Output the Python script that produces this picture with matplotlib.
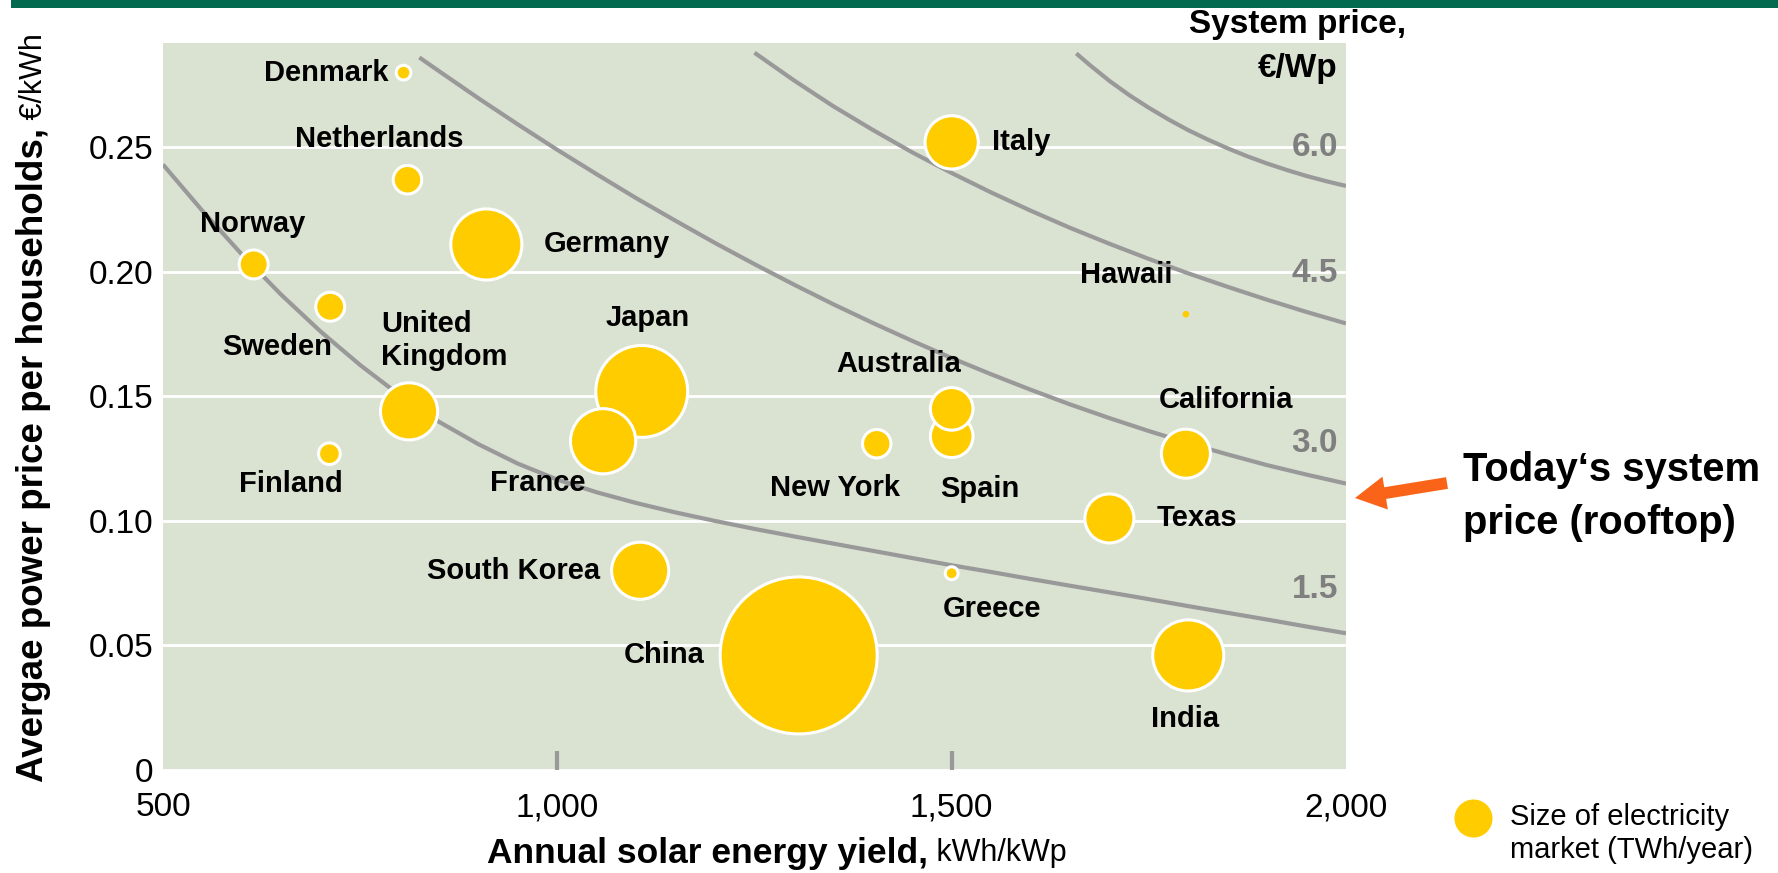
import matplotlib
matplotlib.use("Agg")
import matplotlib.pyplot as plt
from matplotlib.patches import Rectangle

# ── Palette ────────────────────────────────────────────────────────────────
BAR_GREEN = "#03694F"
PLOT_BG   = "#DAE2D2"
BUBBLE    = "#FFCC00"
CURVE     = "#999999"
CURVE_TXT = "#7F7F7F"
ARROW     = "#FA6418"

plt.rcParams["font.family"] = ["Liberation Sans", "DejaVu Sans"]

# ── Data ───────────────────────────────────────────────────────────────────
# draw order matters a little: Spain under Australia, Japan under France
countries = ["Denmark", "Netherlands", "Norway", "Sweden", "Finland",
             "United\nKingdom", "Germany", "Japan", "France", "South Korea",
             "China", "New York", "Spain", "Australia", "Italy", "Greece",
             "Hawaii", "California", "Texas", "India"]
solar_yield = [805, 810, 615, 712, 711, 812, 910, 1107, 1058, 1105,
               1306, 1405, 1500, 1500, 1500, 1500, 1797, 1797, 1700, 1800]   # kWh/kWp
power_price = [0.280, 0.237, 0.203, 0.186, 0.127, 0.144, 0.211, 0.152, 0.132, 0.080,
               0.046, 0.131, 0.134, 0.145, 0.252, 0.079, 0.183, 0.127, 0.101, 0.046]  # €/kWh
market_twh = [35, 132, 136, 136, 76, 530, 820, 1370, 690, 530,
              4000, 131, 295, 295, 460, 27, 7, 390, 390, 820]   # TWh/year

# iso-lines of system price (€/Wp), sampled every 50 kWh/kWp
iso_15_x = list(range(500, 2001, 50))
iso_15_y = [0.2431, 0.2245, 0.2070, 0.1908, 0.1760, 0.1626, 0.1505, 0.1398,
            0.1308, 0.1230, 0.1166, 0.1115, 0.1072, 0.1034, 0.1000, 0.0968,
            0.0938, 0.0909, 0.0880, 0.0851, 0.0822, 0.0795, 0.0767, 0.0740,
            0.0713, 0.0686, 0.0658, 0.0631, 0.0604, 0.0576, 0.0549]
iso_30_x = [825] + list(range(850, 2001, 50))
iso_30_y = [0.2861, 0.2806, 0.2697, 0.2592, 0.2490, 0.2392, 0.2296, 0.2205,
            0.2116, 0.2031, 0.1949, 0.1870, 0.1795, 0.1723, 0.1654, 0.1589,
            0.1527, 0.1468, 0.1413, 0.1361, 0.1312, 0.1267, 0.1224, 0.1186,
            0.1150]
iso_45_x = list(range(1250, 2001, 50))
iso_45_y = [0.2880, 0.2769, 0.2665, 0.2570, 0.2480, 0.2397, 0.2319, 0.2246,
            0.2177, 0.2113, 0.2052, 0.1994, 0.1940, 0.1888, 0.1839, 0.1793]
iso_60_x = [1658] + list(range(1675, 2001, 25))
iso_60_y = [0.2877, 0.2831, 0.2767, 0.2710, 0.2659, 0.2612, 0.2569, 0.2531,
            0.2496, 0.2464, 0.2435, 0.2409, 0.2385, 0.2364, 0.2345]

iso_labels = ["1.5", "3.0", "4.5", "6.0"]

y_ticks = [0, 0.05, 0.10, 0.15, 0.20, 0.25]
y_ticklabels = ["0", "0.05", "0.10", "0.15", "0.20", "0.25"]
x_ticks = [500, 1000, 1500, 2000]
x_ticklabels = ["500", "1,000", "1,500", "2,000"]

# ── Layout bits ────────────────────────────────────────────────────────────
# label offset from bubble centre in points, plus horizontal alignment
label_pos = {
    "Denmark":         (-11, 0, "right"),
    "Netherlands":     (-20, 29, "center"),
    "Norway":          (-1, 29, "center"),
    "Sweden":          (-38, -29, "center"),
    "Finland":         (-28, -22, "center"),
    "United\nKingdom": (-20, 51, "left"),
    "Germany":         (41, 0, "left"),
    "Japan":           (4, 53, "center"),
    "France":          (-47, -30, "center"),
    "South Korea":     (-29, 0, "right"),
    "China":           (-68, 0, "right"),
    "New York":        (-30, -32, "center"),
    "Spain":           (20, -38, "center"),
    "Australia":       (-38, 32, "center"),
    "Italy":           (29, 0, "left"),
    "Greece":          (29, -26, "center"),
    "Hawaii":          (-43, 28, "center"),
    "California":      (29, 39, "center"),
    "Texas":           (34, 0, "left"),
    "India":           (-2, -46, "center"),
}
iso_label_y = [0.0724, 0.1311, 0.1994, 0.250]

SIZE_K = 3.195   # pt^2 per TWh

W, H = 1778, 873
fig = plt.figure(figsize=(W / 100, H / 100), dpi=100, facecolor="white")
ax = fig.add_axes([163 / W, (H - 770) / H, (1346 - 163) / W, (770 - 43) / H])
ax.set_facecolor(PLOT_BG)

# top band
fig.add_artist(Rectangle((11 / W, 1 - 7.5 / H), 1, 7.5 / H,
                         transform=fig.transFigure, color=BAR_GREEN, lw=0))

ax.set_xlim(500, 2000)
ax.set_ylim(0, 0.2919)
for s in ax.spines.values():
    s.set_visible(False)

ax.set_yticks(y_ticks)
ax.set_yticklabels(y_ticklabels)
ax.set_xticks(x_ticks)
ax.set_xticklabels(x_ticklabels)
ax.tick_params(axis="y", length=0, pad=7, labelsize=24)
ax.tick_params(axis="x", length=0, pad=16, labelsize=24)
ax.yaxis.grid(True, color="white", lw=2)
ax.set_axisbelow(True)

# little grey tick marks inside
ax.vlines(x_ticks[1:3], 0, 0.0075, color=CURVE, lw=3, zorder=2)

# ── Iso price curves ───────────────────────────────────────────────────────
curves = [(iso_15_x, iso_15_y), (iso_30_x, iso_30_y),
          (iso_45_x, iso_45_y), (iso_60_x, iso_60_y)]
for (cx, cy), lab, ly in zip(curves, iso_labels, iso_label_y):
    ax.plot(cx, cy, color=CURVE, lw=3.0, zorder=2, solid_capstyle="butt",
            solid_joinstyle="round")
    ax.text(1990, ly, lab, ha="right", va="center", fontsize=24,
            fontweight="bold", color=CURVE_TXT, zorder=2)

# ── Bubbles ────────────────────────────────────────────────────────────────
sizes = [m * SIZE_K for m in market_twh]
edges = [0 if m < 10 else 2.2 for m in market_twh]
ax.scatter(solar_yield, power_price, s=sizes, c=BUBBLE, edgecolors="white",
           linewidths=edges, zorder=3)

for name, x, y in zip(countries, solar_yield, power_price):
    dx, dy, ha = label_pos[name]
    ax.annotate(name, (x, y), xytext=(dx, dy), textcoords="offset points",
                ha=ha, va="center", fontsize=21, fontweight="bold",
                linespacing=1.2, zorder=4)

# ── Axis titles ────────────────────────────────────────────────────────────
fig.text(928 / W, (H - 853) / H, "Annual solar energy yield,", ha="right",
         va="center", fontsize=25.5, fontweight="bold")
fig.text(928 / W, (H - 853) / H, " kWh/kWp", ha="left", va="center", fontsize=22)
fig.text(34 / W, (H - 128) / H, "Avergae power price per households,",
         rotation=90, ha="center", va="top", fontsize=26.5, fontweight="bold")
fig.text(34 / W, (H - 128) / H, " €/kWh", rotation=90, ha="center",
         va="bottom", fontsize=22)

fig.text(1298 / W, (H - 25) / H, "System price,", ha="center", va="center",
         fontsize=24, fontweight="bold")
fig.text(1338 / W, (H - 68) / H, "€/Wp", ha="right", va="center",
         fontsize=24, fontweight="bold")

# ── Annotation: today's price ──────────────────────────────────────────────
ax.annotate("", xy=(1355, H - 498), xytext=(1447, H - 483),
            xycoords="figure pixels", textcoords="figure pixels",
            arrowprops=dict(arrowstyle="simple,head_width=2.4,head_length=2.2,tail_width=0.85",
                            fc=ARROW, ec="none", mutation_scale=10,
                            shrinkA=0, shrinkB=0))
fig.text(1463 / W, (H - 470) / H, "Today\u2018s system", ha="left",
         va="center", fontsize=28.8, fontweight="bold")
fig.text(1463 / W, (H - 523) / H, "price (rooftop)", ha="left",
         va="center", fontsize=28.8, fontweight="bold")

# ── Size legend ────────────────────────────────────────────────────────────
ax.scatter([1473 / W], [(H - 818) / H], s=750, c=BUBBLE, lw=0,
           transform=fig.transFigure, clip_on=False)
fig.text(1510 / W, (H - 817) / H, "Size of electricity", ha="left",
         va="center", fontsize=21)
fig.text(1510 / W, (H - 850) / H, "market (TWh/year)", ha="left",
         va="center", fontsize=21)

fig.savefig("out.png", dpi=100, facecolor="white")
